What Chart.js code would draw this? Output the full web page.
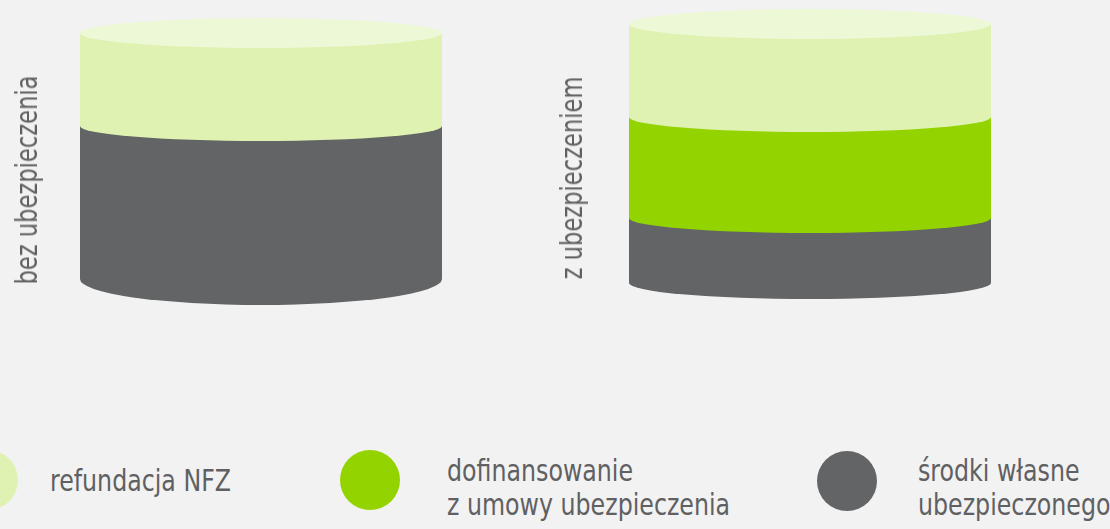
<!DOCTYPE html>
<html lang="pl">
<head>
<meta charset="utf-8">
<title>Koszt leczenia</title>
<script src="https://cdn.jsdelivr.net/npm/chart.js@4/dist/chart.umd.min.js"></script>
<style>
  html, body { margin: 0; padding: 0; background: #f2f2f2; }
  body { width: 1110px; height: 529px; position: relative; overflow: hidden;
         font-family: "DejaVu Sans Condensed", "Liberation Sans", sans-serif; color: #5f6062; }
  canvas { position: absolute; top: 0; }
  #chart-bez { left: 0; }
  #chart-z { left: 545px; }
  .dot { position: absolute; width: 60px; height: 60px; border-radius: 50%; }
  .lbl { position: absolute; font-size: 31px; line-height: 34px; white-space: nowrap;
         transform: scaleX(0.85); transform-origin: 0 0; }
  .axis-title { position: absolute; font-size: 31px; line-height: 34px; white-space: nowrap;
                transform: translate(-50%, -50%) rotate(-90deg) scaleX(0.81); }
</style>
</head>
<body>
<canvas id="chart-bez" width="500" height="330"></canvas>
<canvas id="chart-z" width="500" height="330"></canvas>
<div class="axis-title" id="title-0" style="left:26px; top:180px"></div>
<div class="axis-title" id="title-1" style="left:571px; top:178px"></div>

<div class="dot" style="left:-42px; top:450px; background:#dff2b1"></div>
<div class="lbl" style="left:50px; top:463px">refundacja NFZ</div>
<div class="dot" style="left:340px; top:450px; background:#93d300"></div>
<div class="lbl" style="left:447px; top:453px">dofinansowanie<br>z umowy ubezpieczenia</div>
<div class="dot" style="left:817px; top:451px; background:#636466"></div>
<div class="lbl" style="left:918px; top:453px">środki własne<br>ubezpieczonego</div>

<script>
// dane
const categories = ['bez ubezpieczenia', 'z ubezpieczeniem'];
const seriesNames = ['środki własne ubezpieczonego', 'dofinansowanie z umowy ubezpieczenia', 'refundacja NFZ'];
const ownValues = [153, 65];
const insuranceValues = [0, 101];
const nfzValues = [93, 93];

// kolory
const colors = ['#636466', '#93d300', '#dff2b1'];
const capColor = '#ecf8d6';

// walce rysowane na słupkach
const cylinderPlugin = {
  id: 'cylinder',
  afterDatasetsDraw(chart, args, opts) {
    const ctx = chart.ctx;
    const zeroY = chart.scales.y.getPixelForValue(0);
    let top = null;
    ctx.save();
    chart.getSortedVisibleDatasetMetas().forEach(meta => {
      const value = chart.data.datasets[meta.index].data[0];
      if (!value) return;
      const bar = meta.data[0];
      const { x, y, base, width } = bar.getProps(['x', 'y', 'base', 'width'], true);
      const ry = Math.abs(base - zeroY) < 1 ? opts.bottomRy : opts.ry;
      ctx.fillStyle = chart.data.datasets[meta.index].backgroundColor;
      ctx.beginPath();
      ctx.ellipse(x, base, width / 2, ry, 0, 0, Math.PI);
      // zakrywa szew między segmentami
      ctx.lineTo(x - width / 2, base - 2);
      ctx.lineTo(x + width / 2, base - 2);
      ctx.closePath();
      ctx.fill();
      top = { x, y, width };
    });
    if (top) {
      ctx.fillStyle = capColor;
      ctx.beginPath();
      ctx.ellipse(top.x, top.y, top.width / 2, opts.ry, 0, 0, Math.PI * 2);
      ctx.fill();
    }
    ctx.restore();
  }
};

function makeChart(id, i, cfg) {
  const values = [ownValues[i], insuranceValues[i], nfzValues[i]];
  document.getElementById('title-' + i).textContent = categories[i];
  return new Chart(document.getElementById(id), {
    type: 'bar',
    data: {
      labels: [categories[i]],
      datasets: values.map((v, k) => ({
        label: seriesNames[k],
        data: [v],
        backgroundColor: colors[k],
        borderWidth: 0,
        barThickness: 362
      }))
    },
    options: {
      responsive: false,
      animation: false,
      layout: { padding: { left: cfg.padLeft, right: cfg.padRight, top: 0, bottom: 330 - cfg.baseY } },
      scales: {
        x: { stacked: true, display: false },
        y: { stacked: true, display: false, min: 0, max: cfg.baseY }
      },
      plugins: {
        legend: { display: false },
        tooltip: { enabled: false },
        cylinder: { ry: 15, bottomRy: cfg.bottomRy }
      }
    },
    plugins: [cylinderPlugin]
  });
}

makeChart('chart-bez', 0, { padLeft: 80, padRight: 58, baseY: 279, bottomRy: 26 });
makeChart('chart-z', 1, { padLeft: 84, padRight: 54, baseY: 283, bottomRy: 16 });
</script>
</body>
</html>
